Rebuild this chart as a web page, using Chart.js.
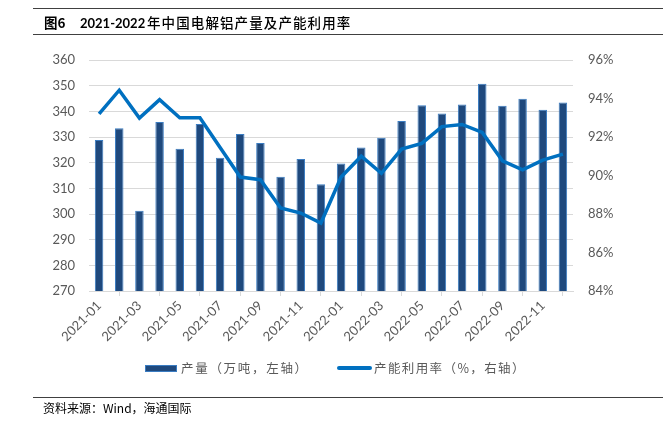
<!DOCTYPE html>
<html>
<head>
<meta charset="utf-8">
<script src="https://cdn.jsdelivr.net/npm/chart.js@4.4.1/dist/chart.umd.min.js"></script>
<style>
  html, body { margin: 0; padding: 0; background: #fff; }
  #wrap { position: relative; width: 663px; height: 425px; overflow: hidden; font-family: "Open Sans", "Noto Sans CJK SC", sans-serif; }
  #chart { position: absolute; left: 0; top: 0; }
  .hline { position: absolute; height: 0; border-top: 1.5px solid #404040; }
  .tt { position: absolute; top: 13px; font-size: 13.5px; color: #000; white-space: nowrap; line-height: 18px; }
  .leg { position: absolute; font-family: "Noto Sans CJK SC", sans-serif; font-size: 12.5px; color: #595959; white-space: nowrap; line-height: 16px; letter-spacing: 1.7px; }
  .sw-bar { position: absolute; left: 145px; top: 365px; width: 30px; height: 5px; background: #1F497D; border: 1px solid #3A7CC2; }
  .sw-line { position: absolute; left: 337px; top: 366px; width: 35px; height: 4px; background: #0070C0; border-radius: 2px; }
  #src { position: absolute; left: 43px; top: 400px; font-family: "Noto Sans CJK SC", sans-serif; font-size: 12px; color: #000; white-space: nowrap; line-height: 16px; }
</style>
</head>
<body>
<div id="wrap">
  <canvas id="chart" width="663" height="425"></canvas>
  <div class="hline" style="left:33px; right:0; top:8px;"></div>
  <div class="tt" style="left:44px; font-weight:bold; font-family:'Noto Sans CJK SC', sans-serif;">图6</div>
  <div class="tt" style="left:80px; top:13.5px; font-size:13px; font-weight:bold; font-family:Lato, 'Open Sans', sans-serif;">2021-2022</div>
  <div class="tt" style="left:147px; font-family:'Noto Sans CJK SC', sans-serif; letter-spacing:1.1px; font-weight:500;">年中国电解铝产量及产能利用率</div>
  <div class="hline" style="left:33px; right:0; top:34px;"></div>
  <div class="sw-bar"></div>
  <div class="leg" style="left:181px; top:360px;">产量（万吨，左轴）</div>
  <div class="sw-line"></div>
  <div class="leg" style="left:374px; top:360px; letter-spacing:1.4px;">产能利用率（%，右轴）</div>
  <div class="hline" style="left:33px; right:0; top:397px; border-top-width:1px;"></div>
  <div id="src">资料来源：Wind，海通国际</div>
</div>
<script>
const months = ["2021-01","2021-02","2021-03","2021-04","2021-05","2021-06","2021-07","2021-08","2021-09","2021-10","2021-11","2021-12",
                "2022-01","2022-02","2022-03","2022-04","2022-05","2022-06","2022-07","2022-08","2022-09","2022-10","2022-11","2022-12"];
const production = [328.8,333.4,301.3,335.8,325.4,335.1,321.9,331.2,327.7,314.5,321.4,311.6,
                    319.7,325.9,329.7,336.2,342.4,339.2,342.7,350.7,342.2,344.9,340.6,343.4];
const utilization = [93.2,94.43,92.98,93.94,93.0,93.0,91.45,89.92,89.78,88.31,88.05,87.53,
                     89.92,91.0,90.11,91.37,91.67,92.54,92.65,92.24,90.76,90.29,90.8,91.11];
const leftTicks = [270, 360, 10];
const rightTicks = [84, 96, 2];

const tickFont = { family: "Lato, 'Open Sans', sans-serif", size: 13 };
const tickColor = "#595959";
const gridColor = "#D9D9D9";

new Chart(document.getElementById("chart"), {
  type: "bar",
  data: {
    labels: months,
    datasets: [
      {
        type: "line",
        label: "产能利用率（%，右轴）",
        data: utilization,
        yAxisID: "y1",
        borderColor: "#0070C0",
        borderWidth: 3.5,
        pointRadius: 0,
        tension: 0,
        fill: false,
        order: 0
      },
      {
        type: "bar",
        label: "产量（万吨，左轴）",
        data: production,
        yAxisID: "y",
        backgroundColor: "#1F497D",
        borderColor: "#3A7CC2",
        borderWidth: 1,
        barPercentage: 0.42,
        categoryPercentage: 1,
        order: 1
      }
    ]
  },
  options: {
    responsive: false,
    animation: false,
    devicePixelRatio: 1,
    layout: { padding: { left: 0, right: 0, top: 60, bottom: 0 } },
    plugins: { legend: { display: false }, tooltip: { enabled: false } },
    scales: {
      x: {
        offset: true,
        grid: { display: true, drawOnChartArea: false, drawTicks: true, tickLength: 5, color: gridColor, offset: true },
        border: { display: true, color: gridColor, width: 1 },
        ticks: {
          autoSkip: false, minRotation: 45, maxRotation: 45, padding: 2,
          color: tickColor, font: tickFont,
          callback: function(v, i) { return i % 2 === 0 ? months[i] : null; }
        },
        afterFit: function(s) { s.height = 134; }
      },
      y: {
        position: "left",
        min: leftTicks[0], max: leftTicks[1],
        ticks: { stepSize: leftTicks[2], color: tickColor, font: tickFont, padding: 14 },
        grid: { color: gridColor, drawTicks: false },
        border: { display: false },
        afterFit: function(s) { s.width = 89; }
      },
      y1: {
        position: "right",
        min: rightTicks[0], max: rightTicks[1],
        ticks: { stepSize: rightTicks[2], color: tickColor, font: tickFont, padding: 15,
                 callback: function(v) { return v + "%"; } },
        grid: { drawOnChartArea: false, drawTicks: false },
        border: { display: false },
        afterFit: function(s) { s.width = 90; }
      }
    }
  }
});
</script>
</body>
</html>
